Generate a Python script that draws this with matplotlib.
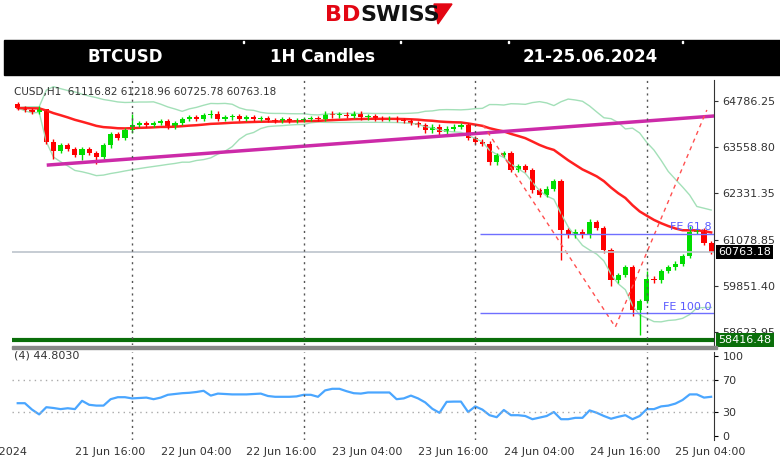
import matplotlib
matplotlib.use("Agg")
import matplotlib.pyplot as plt
import numpy as np
import pandas as pd
from matplotlib.patches import Rectangle, Polygon

# ---------------- data ----------------
closes = [64600, 64550, 64500, 64580, 63700, 63450, 63600, 63500,
          63350, 63500, 63400, 63300, 63600, 63900, 63800, 64000, 64150, 64200,
          64150, 64200, 64250, 64100, 64200, 64300, 64350, 64300,
          64400, 64450, 64300, 64350, 64380, 64300, 64350, 64300, 64320, 64280,
          64250, 64300, 64250, 64280, 64300, 64320, 64300,
          64450, 64400, 64420, 64380, 64450, 64350, 64380, 64320,
          64300, 64320, 64280, 64250, 64200, 64150, 64000, 64100,
          63950, 64050, 64100, 64150, 63800,
          63700, 63650, 63150, 63350, 63400, 62950, 63050, 62950, 62400, 62280,
          62450, 62650, 61350, 61200, 61300, 61200, 61550, 61400, 60800, 60000,
          60150, 60350, 59200, 59450, 60050, 60000, 60250, 60350, 60450, 60650,
          61300, 61350, 61000, 60763.18]
first_open = 64700
wick_high = {16: 64450, 4: 64550, 76: 62700, 94: 61450, 80: 61650, 88: 60250, 27: 64550}
wick_low = {76: 60550, 86: 59050, 87: 58540, 83: 59850, 5: 63250, 9: 63200, 11: 63100}
rsi = [41, 41, 33, 27, 36, 35, 33.6, 34.7, 33.6, 44, 39, 38, 38, 46, 48.5, 48.5, 47, 47.5,
       48, 46, 48, 51.5, 52.5, 53.5, 54, 55, 56.5, 50.5, 53, 52.5, 52, 52, 52, 52.5, 53,
       50, 49, 49, 49, 49.5, 51.5, 51.5, 49, 57, 59, 59, 56, 53.5, 53, 54.4, 54.4, 54.4,
       54.4, 46, 47, 50.5, 47, 42, 34, 29, 42.7, 43, 43, 30, 37, 33, 26, 23.5, 32.5, 26,
       26, 25, 21, 23, 25, 30, 21, 21, 22.7, 22.7, 32, 29, 25, 21.6, 24, 26, 21, 25,
       33.6, 33.6, 37, 38, 40.5, 45, 52, 52, 48, 49]
price_ticks = [64786.25, 63558.80, 62331.35, 61078.85, 59851.40, 58623.95]
last_price = 60763.18
support = 58416.48
trend_h = [-11.7, 81.4]
trend_p = [63079, 64386]
fe_h = [49.1, 67.6, 80.4]
fe_p = [64146, 58756, 64546]
fe_levels = [61238, 59130]
fe_names = ["FE 61.8", "FE 100.0"]
xlabels = ["21 Jun 2024", "21 Jun 16:00", "22 Jun 04:00", "22 Jun 16:00", "23 Jun 04:00",
           "23 Jun 16:00", "24 Jun 04:00", "24 Jun 16:00", "25 Jun 04:00"]
xlabel_h = [-24, -8, 4, 16, 28, 40, 52, 64, 76]
day_lines = [0, 24, 48, 72]

# ---------------- figure ----------------
W, H = 780, 475
fig = plt.figure(figsize=(W / 100, H / 100), dpi=100)
fig.patch.set_facecolor("white")

def fx(x): return x / W
def fy(y): return 1 - y / H

# logo
fig.text(fx(360), fy(15), "BD", color="#e30613", fontsize=16, fontweight="bold", ha="right", va="center")
fig.text(fx(360), fy(15), "SWISS", color="#111111", fontsize=16, fontweight="bold", ha="left", va="center")
fig.patches.append(Polygon([[fx(434), fy(4)], [fx(452), fy(4)], [fx(438), fy(24)]],
                           closed=True, color="#e30613", transform=fig.transFigure))
# black header bar
fig.patches.append(Rectangle((fx(4), fy(75)), fx(776), 35 / H, color="black", transform=fig.transFigure))
for sx in [243, 400, 508, 682]:
    fig.patches.append(Rectangle((fx(sx), fy(43)), 1 / W, 2 / H, color="white", transform=fig.transFigure))
for tx, t in [(125, "BTCUSD"), (322, "1H Candles"), (590, "21-25.06.2024")]:
    fig.text(fx(tx), fy(57), t, color="white", fontsize=12, fontweight="bold", ha="center", va="center")

n = len(closes)
hrs = np.arange(n) - 16
opens = [first_open] + closes[:-1]

# price axes
ax = fig.add_axes([fx(12), fy(345), fx(702), 265 / H])
ymax = 64786.25 + 21 * 26.68
ymin = 64786.25 - 244 * 26.68
ax.set_xlim(-16.8, 81.4)
ax.set_ylim(ymin, ymax)

s = pd.Series(closes, dtype=float)
ema = s.ewm(span=30, adjust=False).mean()
mid = s.rolling(20, min_periods=1).mean()
sd = s.rolling(20, min_periods=1).std(ddof=0)
ax.plot(hrs, mid + 2 * sd, color="#a3e0b8", lw=1.0)
ax.plot(hrs, mid - 2 * sd, color="#a3e0b8", lw=1.0)
ax.plot(hrs, ema, color="#ff2020", lw=1.8)

for i in range(n):
    o, c = opens[i], closes[i]
    col = "#00dd00" if c >= o else "#ff0000"
    hi = wick_high.get(i, max(o, c) + 60)
    lo = wick_low.get(i, min(o, c) - 60)
    ax.vlines(hrs[i], lo, hi, color=col, lw=1)
    ax.add_patch(Rectangle((hrs[i] - 0.36, min(o, c)), 0.72, max(abs(c - o), 30), color=col, lw=0))

ax.plot(trend_h, trend_p, color="#cc2aa8", lw=2.5)
ax.plot(fe_h, fe_p, color="#ff5050", lw=1, ls=(0, (3, 3)))
for lv, nm in zip(fe_levels, fe_names):
    ax.hlines(lv, 48.7, 81.4, color="#6f6fff", lw=1)
    ax.text(81.0, lv + 40, nm, color="#5a5aff", fontsize=8, ha="right", va="bottom")
ax.axhline(last_price, color="#bcc4cc", lw=1.2)
ax.axhline(support, color="#0a6e0a", lw=3)
for d in day_lines:
    ax.axvline(d, color="#555555", lw=1, ls=(0, (1.5, 3)))

ax.set_xticks([])
ax.set_yticks(price_ticks)
ax.yaxis.tick_right()
ax.set_yticklabels([f"{p:.2f}" for p in price_ticks], fontsize=8, color="#333333")
ax.tick_params(axis="y", length=3, pad=3, color="#333333")
for sp in ["top", "left", "bottom"]:
    ax.spines[sp].set_visible(False)
ax.spines["right"].set_color("#333333")
ax.text(82.0, last_price, f"{last_price:.2f}", fontsize=8, color="white", va="center",
        ha="left", bbox=dict(facecolor="black", edgecolor="none", pad=1.5), clip_on=False, zorder=10)
ax.text(82.0, support, f"{support:.2f}", fontsize=8, color="white", va="center",
        ha="left", bbox=dict(facecolor="#0a6e0a", edgecolor="none", pad=1.5), clip_on=False, zorder=10)
ax.text(-16.5, ymax - 200, "CUSD,H1  61116.82 61218.96 60725.78 60763.18", fontsize=7.5,
        color="#333333", va="top", ha="left")

# separator
fig.patches.append(Rectangle((fx(12), fy(349)), fx(705), 3 / H, color="#888888", transform=fig.transFigure))

# RSI axes
ar = fig.add_axes([fx(12), fy(440), fx(702), 88 / H])
ar.set_xlim(-16.8, 81.4)
ar.set_ylim(-5, 105)
ar.plot(hrs, rsi, color="#4aa6ff", lw=1.6)
for lv in [70, 30]:
    ar.axhline(lv, color="#aaaaaa", lw=1, ls=(0, (1, 3)))
for d in day_lines:
    ar.axvline(d, color="#555555", lw=1, ls=(0, (1.5, 3)))
ar.set_yticks([100, 70, 30, 0])
ar.yaxis.tick_right()
ar.set_yticklabels(["100", "70", "30", "0"], fontsize=8, color="#333333")
ar.tick_params(axis="y", length=3, pad=3)
ar.set_xticks([])
for sp in ["top", "left", "bottom"]:
    ar.spines[sp].set_visible(False)
ar.spines["right"].set_color("#333333")
ar.text(-16.5, 100, "(4) 44.8030", fontsize=8, color="#333333", va="center", ha="left")
for h, lab in zip(xlabel_h, xlabels):
    x = 132 + 7.15 * h
    fig.text(fx(x), fy(452), lab, fontsize=8, color="#333333", ha="left", va="center")

fig.savefig("out.png", dpi=100)
